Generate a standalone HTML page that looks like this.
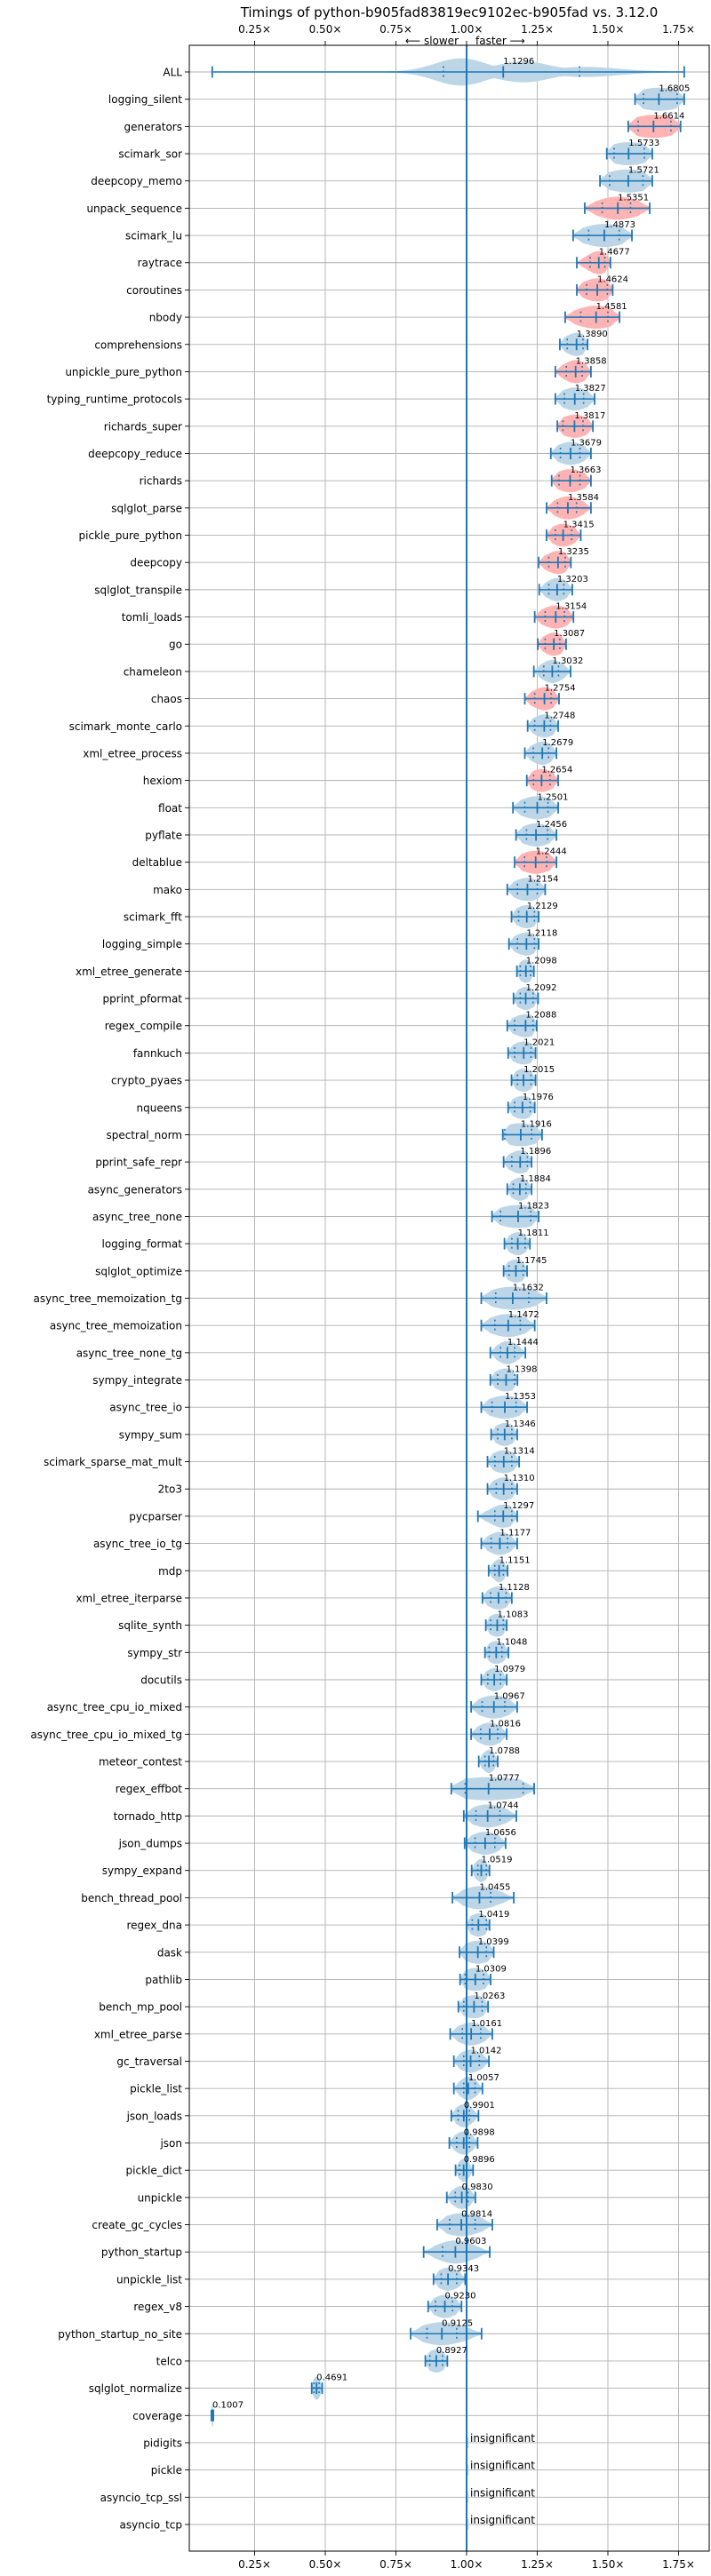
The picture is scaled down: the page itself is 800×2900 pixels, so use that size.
<!DOCTYPE html>
<html><head><meta charset="utf-8"><style>
html,body{margin:0;padding:0;background:#fff;}
svg{display:block;font-family:"DejaVu Sans","Liberation Sans",sans-serif;}
</style></head><body>
<svg id="chart" width="800" height="2900" viewBox="0 0 800 2900" xmlns="http://www.w3.org/2000/svg">
<rect x="0" y="0" width="800" height="2900" fill="#fff"/>
<text x="505.5" y="19" text-anchor="middle" font-size="15" fill="#000">Timings of python-b905fad83819ec9102ec-b905fad vs. 3.12.0</text>
<text x="516" y="50" text-anchor="end" font-size="12" fill="#000">⟵ slower</text>
<text x="535" y="50" text-anchor="start" font-size="12" fill="#000">faster ⟶</text>
<g id="grid"></g>
<g id="marks"></g>
<g id="labels"></g>
<rect x="213" y="51" width="585" height="2821" fill="none" stroke="#000" stroke-width="1"/>
</svg>
<script>
const names = ["ALL","logging_silent","generators","scimark_sor","deepcopy_memo","unpack_sequence","scimark_lu","raytrace","coroutines","nbody","comprehensions","unpickle_pure_python","typing_runtime_protocols","richards_super","deepcopy_reduce","richards","sqlglot_parse","pickle_pure_python","deepcopy","sqlglot_transpile","tomli_loads","go","chameleon","chaos","scimark_monte_carlo","xml_etree_process","hexiom","float","pyflate","deltablue","mako","scimark_fft","logging_simple","xml_etree_generate","pprint_pformat","regex_compile","fannkuch","crypto_pyaes","nqueens","spectral_norm","pprint_safe_repr","async_generators","async_tree_none","logging_format","sqlglot_optimize","async_tree_memoization_tg","async_tree_memoization","async_tree_none_tg","sympy_integrate","async_tree_io","sympy_sum","scimark_sparse_mat_mult","2to3","pycparser","async_tree_io_tg","mdp","xml_etree_iterparse","sqlite_synth","sympy_str","docutils","async_tree_cpu_io_mixed","async_tree_cpu_io_mixed_tg","meteor_contest","regex_effbot","tornado_http","json_dumps","sympy_expand","bench_thread_pool","regex_dna","dask","pathlib","bench_mp_pool","xml_etree_parse","gc_traversal","pickle_list","json_loads","json","pickle_dict","unpickle","create_gc_cycles","python_startup","unpickle_list","regex_v8","python_startup_no_site","telco","sqlglot_normalize","coverage","pidigits","pickle","asyncio_tcp_ssl","asyncio_tcp"];
const medians = [1.1296,1.6805,1.6614,1.5733,1.5721,1.5351,1.4873,1.4677,1.4624,1.4581,1.3890,1.3858,1.3827,1.3817,1.3679,1.3663,1.3584,1.3415,1.3235,1.3203,1.3154,1.3087,1.3032,1.2754,1.2748,1.2679,1.2654,1.2501,1.2456,1.2444,1.2154,1.2129,1.2118,1.2098,1.2092,1.2088,1.2021,1.2015,1.1976,1.1916,1.1896,1.1884,1.1823,1.1811,1.1745,1.1632,1.1472,1.1444,1.1398,1.1353,1.1346,1.1314,1.1310,1.1297,1.1177,1.1151,1.1128,1.1083,1.1048,1.0979,1.0967,1.0816,1.0788,1.0777,1.0744,1.0656,1.0519,1.0455,1.0419,1.0399,1.0309,1.0263,1.0161,1.0142,1.0057,0.9901,0.9898,0.9896,0.9830,0.9814,0.9603,0.9343,0.9230,0.9125,0.8927,0.4691,0.1007,null,null,null,null];
const mins = [0.10,1.596,1.572,1.496,1.472,1.418,1.377,1.390,1.390,1.349,1.330,1.314,1.314,1.321,1.298,1.301,1.283,1.283,1.255,1.257,1.241,1.252,1.238,1.206,1.216,1.206,1.213,1.164,1.175,1.170,1.144,1.159,1.150,1.178,1.166,1.144,1.147,1.159,1.147,1.128,1.131,1.144,1.090,1.134,1.131,1.052,1.052,1.084,1.084,1.052,1.087,1.074,1.074,1.040,1.052,1.078,1.056,1.068,1.065,1.052,1.016,1.016,1.043,0.946,0.990,0.993,1.018,0.950,1.000,0.975,0.977,0.971,0.942,0.955,0.955,0.946,0.939,0.961,0.930,0.896,0.848,0.883,0.864,0.802,0.854,0.452,0.097,null,null,null,null];
const maxs = [1.77,1.770,1.757,1.657,1.657,1.648,1.585,1.509,1.517,1.541,1.428,1.440,1.453,1.447,1.440,1.440,1.440,1.404,1.369,1.374,1.378,1.352,1.368,1.327,1.324,1.318,1.324,1.324,1.318,1.318,1.278,1.255,1.255,1.238,1.253,1.248,1.244,1.244,1.241,1.267,1.230,1.230,1.255,1.224,1.214,1.283,1.241,1.208,1.180,1.214,1.179,1.186,1.179,1.179,1.179,1.145,1.160,1.142,1.148,1.142,1.179,1.142,1.110,1.239,1.176,1.138,1.081,1.167,1.081,1.096,1.085,1.076,1.091,1.079,1.056,1.042,1.039,1.023,1.031,1.091,1.082,0.995,0.982,1.053,0.932,0.489,0.104,null,null,null,null];
const q1s = [0.918,1.626,1.607,1.522,1.506,1.480,1.432,1.437,1.425,1.404,1.356,1.353,1.346,1.341,1.332,1.327,1.322,1.314,1.291,1.291,1.278,1.278,1.273,1.241,1.241,1.236,1.237,1.206,1.212,1.205,1.180,1.184,1.180,1.190,1.190,1.170,1.170,1.180,1.170,1.135,1.160,1.165,1.120,1.160,1.150,1.103,1.100,1.120,1.110,1.090,1.110,1.100,1.105,1.100,1.087,1.100,1.085,1.085,1.080,1.075,1.055,1.050,1.065,0.995,1.033,1.030,1.040,1.000,1.020,1.000,0.995,0.990,0.985,0.990,0.990,0.970,0.965,0.975,0.960,0.940,0.915,0.910,0.890,0.860,0.870,0.460,0.099,null,null,null,null];
const q3s = [1.400,1.745,1.723,1.629,1.624,1.580,1.540,1.489,1.498,1.500,1.412,1.409,1.414,1.412,1.401,1.401,1.389,1.372,1.349,1.344,1.346,1.330,1.325,1.299,1.297,1.290,1.295,1.288,1.287,1.283,1.250,1.240,1.240,1.226,1.235,1.235,1.228,1.228,1.225,1.230,1.215,1.210,1.227,1.207,1.200,1.220,1.190,1.170,1.170,1.175,1.160,1.160,1.160,1.160,1.145,1.130,1.140,1.130,1.125,1.120,1.135,1.110,1.095,1.200,1.118,1.100,1.070,1.085,1.070,1.070,1.060,1.055,1.050,1.045,1.030,1.010,1.010,1.000,1.005,1.030,1.000,0.965,0.950,0.965,0.915,0.478,0.103,null,null,null,null];
const slowerFlags = [0,0,1,0,0,1,0,1,1,1,0,1,0,1,0,1,1,1,1,0,1,1,0,1,0,0,1,0,0,1,0,0,0,0,0,0,0,0,0,0,0,0,0,0,0,0,0,0,0,0,0,0,0,0,0,0,0,0,0,0,0,0,0,0,0,0,0,0,0,0,0,0,0,0,0,0,0,0,0,0,0,0,0,0,0,0,0,0,0,0,0];
const xTicks = [0.25,0.5,0.75,1.0,1.25,1.5,1.75];
const xTickLabels = ["0.25×","0.50×","0.75×","1.00×","1.25×","1.50×","1.75×"];

const NS = "http://www.w3.org/2000/svg";
const X0 = 213, X1 = 798, Y0 = 51, Y1 = 2872;
function xs(v){ return 525 + (v - 1) * 318; }
function ys(i){ return 81 + i * (2842 - 81) / (names.length - 1); }
function mk(tag, attrs, parent){
  const e = document.createElementNS(NS, tag);
  for (const k in attrs) e.setAttribute(k, attrs[k]);
  parent.appendChild(e);
  return e;
}
const grid = document.getElementById('grid');
const marks = document.getElementById('marks');
const labels = document.getElementById('labels');

xTicks.forEach((t, k) => {
  const x = xs(t);
  const g = mk('line', {x1:x, x2:x, y1:Y0, y2:Y1, stroke:'#b0b0b0', 'stroke-width':0.9}, grid);
  
  
  mk('line', {x1:x, x2:x, y1:Y0-5, y2:Y0, stroke:'#000', 'stroke-width':0.9}, grid);
  mk('line', {x1:x, x2:x, y1:Y1, y2:Y1+5, stroke:'#000', 'stroke-width':0.9}, grid);
  const tt = mk('text', {x:x, y:37, 'text-anchor':'middle', 'font-size':12, fill:'#000'}, labels);
  tt.textContent = xTickLabels[k];
  
  
  const tb = mk('text', {x:x, y:2891, 'text-anchor':'middle', 'font-size':12, fill:'#000'}, labels);
  tb.textContent = xTickLabels[k];
  
  
});
names.forEach((n, i) => {
  const y = ys(i);
  const g = mk('line', {x1:X0, x2:X1, y1:y, y2:y, stroke:'#b0b0b0', 'stroke-width':0.9}, grid);
  
  
  mk('line', {x1:X0-5, x2:X0, y1:y, y2:y, stroke:'#000', 'stroke-width':0.9}, grid);
  const t = mk('text', {x:X0-8, y:y+4.5, 'text-anchor':'end', 'font-size':12, fill:'#000'}, labels);
  t.textContent = n;
  
  
});

names.forEach((n, i) => {
  const y = ys(i);
  const med = medians[i];
  if (med === null) {
    const s = mk('line', {x1:xs(1)+1.5, x2:xs(1)+1.5, y1:y-6, y2:y+6, stroke:'#bcd6e8', 'stroke-width':1.5}, marks);
    
    
    const t = mk('text', {x:xs(1)+4, y:y-1, 'font-size':12, fill:'#000'}, labels);
    t.textContent = 'insignificant';
    
    
    return;
  }
  const lo = mins[i], hi = maxs[i], q1 = q1s[i], q3 = q3s[i];
  const H = i === 0 ? 15 : 12.5;
  let a = lo, b = hi;
  if (i === 0) { a = 0.55; b = 1.72; }
  const sig = Math.max((q3 - q1) / 1.3, (hi - lo) / 6.5, 0.004);
  const N = 60, top = [], bot = [];
  for (let k = 0; k <= N; k++) {
    const v = a + (b - a) * k / N;
    let h;
    if (i === 0) {
      const w = Math.max(
        Math.exp(-0.5 * ((v - 0.98) / 0.09) ** 2),
        0.75 * Math.exp(-0.5 * ((v - 1.2) / 0.1) ** 2),
        0.35 * Math.exp(-0.5 * ((v - 1.42) / 0.12) ** 2),
        0.08 * Math.exp(-0.5 * ((v - 1.6) / 0.08) ** 2));
      h = H * w + 0.4;
    } else {
      const z = (v - med) / sig;
      const w = Math.exp(-0.5 * z * z);
      const edge = Math.min(1, (v - a) / (b - a) * 6, (b - v) / (b - a) * 6);
      h = H * w * (0.3 + 0.7 * edge) + 0.5;
    }
    top.push(xs(v).toFixed(1) + ',' + (y - h).toFixed(1));
    bot.unshift(xs(v).toFixed(1) + ',' + (y + h).toFixed(1));
  }
  const body = mk('polygon', {points: top.concat(bot).join(' '), fill: slowerFlags[i] ? '#ffb3b3' : '#bcd6e8', stroke:'none'}, marks);
  
  
  const col = '#1f77b4';
  const hl = mk('line', {x1:xs(lo), x2:xs(hi), y1:y, y2:y, stroke:col, 'stroke-width':i === 86 ? 6 : 1.6}, marks);
  
  
  [lo, med, hi].forEach(v => {
    const c = mk('line', {x1:xs(v), x2:xs(v), y1:y-6.5, y2:y+6.5, stroke:col, 'stroke-width':1.8}, marks);
    
    
  });
  [q1, q3].forEach(v => {
    const d = mk('line', {x1:xs(v), x2:xs(v), y1:y-6.5, y2:y+6.5, stroke:col, 'stroke-width':1.6, 'stroke-dasharray':'2,3'}, marks);
    
    
  });
  const t = mk('text', {x:xs(med), y:y-9, 'font-size':10, fill:'#000'}, labels);
  t.textContent = med.toFixed(4);
  
  
});
const ref = mk('line', {x1:xs(1), x2:xs(1), y1:Y0, y2:Y1, stroke:'#1f77b4', 'stroke-width':2}, marks);


</script>
</body></html>
